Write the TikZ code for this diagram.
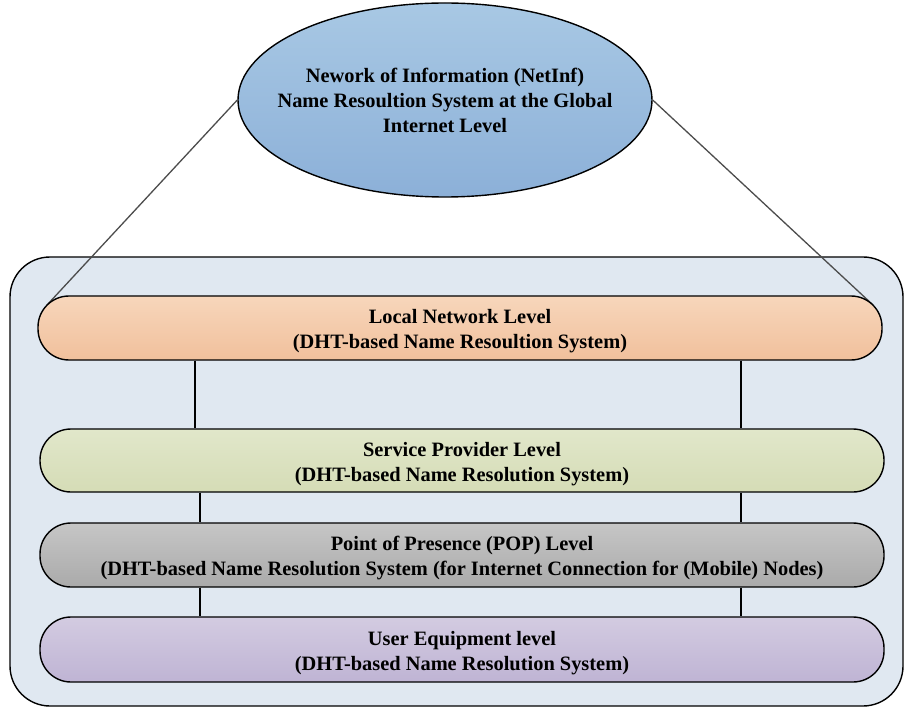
\documentclass[tikz,border=0pt]{standalone}
\usepackage{fontspec}
\setmainfont{Liberation Serif}
\usetikzlibrary{shapes.geometric}
\definecolor{backblue}{RGB}{224,232,241}
\definecolor{ovaltop}{RGB}{168,200,228}
\definecolor{ovalbot}{RGB}{140,176,216}
\definecolor{localtop}{RGB}{247,214,187}
\definecolor{localbot}{RGB}{241,192,156}
\definecolor{provtop}{RGB}{225,231,202}
\definecolor{provbot}{RGB}{213,220,182}
\definecolor{poptop}{RGB}{198,198,198}
\definecolor{popbot}{RGB}{170,170,170}
\definecolor{uetop}{RGB}{211,203,225}
\definecolor{uebot}{RGB}{191,180,212}
\tikzset{
  level/.style={draw,line width=1.4,rounded corners=31,minimum width=844,minimum height=64,
    inner sep=0,text height=45.5,text depth=4.5,align=center,font=\bfseries\fontsize{20.4}{25}\selectfont},
  link/.style={line width=1.4},
  slant/.style={line width=1.3,black!70}
}
\begin{document}
\begin{tikzpicture}[x=1pt,y=-1pt]
		\useasboundingbox (0,0) rectangle (904,708);
		\draw[line width=1.4,fill=backblue,rounded corners=40] (10,257) rectangle (903,706);
		\node[ellipse,draw,line width=1.4,top color=ovaltop,bottom color=ovalbot,minimum width=414,minimum height=194,
			inner xsep=-40,inner ysep=0,align=center,font=\bfseries\fontsize{20.4}{25}\selectfont] (netinf) at (445,100)
			{Nework of Information (NetInf)\\Name Resoultion System at the Global\\Internet Level};
		\coordinate (lc) at (47,305);
		\coordinate (rc) at (873,305);
		\draw[slant] (netinf.west)--(lc);
		\draw[slant] (netinf.east)--(rc);
		\node[level,top color=localtop,bottom color=localbot] (local) at (460,328)
			{Local Network Level\\(DHT-based Name Resoultion System)};
		\node[level,top color=provtop,bottom color=provbot,minimum height=63] (prov) at (462,460.5)
			{Service Provider Level\\(DHT-based Name Resolution System)};
		\node[level,top color=poptop,bottom color=popbot] (pop) at (462,555)
			{Point of Presence (POP) Level\\(DHT-based Name Resolution System (for Internet Connection for (Mobile) Nodes)};
		\node[level,top color=uetop,bottom color=uebot,minimum height=65] (ue) at (462,649.5)
			{User Equipment level\\(DHT-based Name Resolution System)};
		\draw[link] (local.south -| 195,0)--(prov.north -| 195,0);
		\draw[link] (local.south -| 741,0)--(prov.north -| 741,0);
		\draw[link] (prov.south -| 200,0)--(pop.north -| 200,0);
		\draw[link] (prov.south -| 741,0)--(pop.north -| 741,0);
		\draw[link] (pop.south -| 200,0)--(ue.north -| 200,0);
		\draw[link] (pop.south -| 741,0)--(ue.north -| 741,0);
\end{tikzpicture}
\end{document}
